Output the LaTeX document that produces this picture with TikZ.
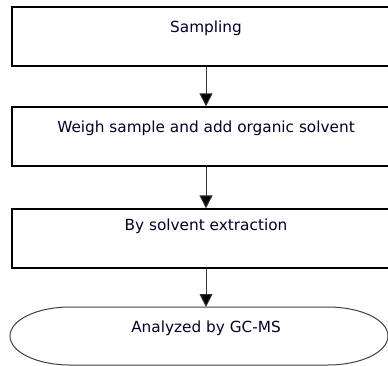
\documentclass[tikz,border=0pt]{standalone}
\usepackage{fontspec}
\setmainfont{DejaVu Sans}
\usetikzlibrary{arrows.meta}
\begin{document}
\begin{tikzpicture}[x=1pt,y=-1pt,
  stepbox/.style={draw=black,line width=1.3pt,minimum width=388pt,minimum height=59pt,inner sep=0pt},
  steptext/.style={font=\fontsize{15.3}{18}\selectfont,text=black!85!blue,inner sep=0pt,anchor=center},
  flow/.style={draw=black!80,line width=1pt,-{Triangle[width=13pt,length=13pt,fill=black]}}]
\clip (0,0) rectangle (388,366);
\useasboundingbox (0,0) rectangle (388,366);
\node[stepbox] (b1) at (206,36.5) {};
\node[stepbox] (b2) at (206,136.5) {};
\node[stepbox] (b3) at (206,238.5) {};
\draw[black!75,line width=1pt] (70,307) -- (328,307) arc[start angle=90,end angle=-90,x radius=60pt,y radius=29pt] -- (70,365) arc[start angle=270,end angle=90,x radius=60pt,y radius=29pt] -- cycle;
\coordinate (b4) at (206,307);
\node[steptext] (t1) at (206,28) {Sampling};
\node[steptext] (t2) at (206,128) {Weigh sample and add organic solvent};
\node[steptext] (t3) at (206,226) {By solvent extraction};
\node[steptext] (t4) at (206,328) {Analyzed by GC-MS};
\draw[flow] (b1.south -| t1) -- (b2.north -| t1);
\draw[flow] (b2.south -| t1) -- (b3.north -| t1);
\draw[flow] (b3.south -| t1) -- (b4);
\end{tikzpicture}
\end{document}
